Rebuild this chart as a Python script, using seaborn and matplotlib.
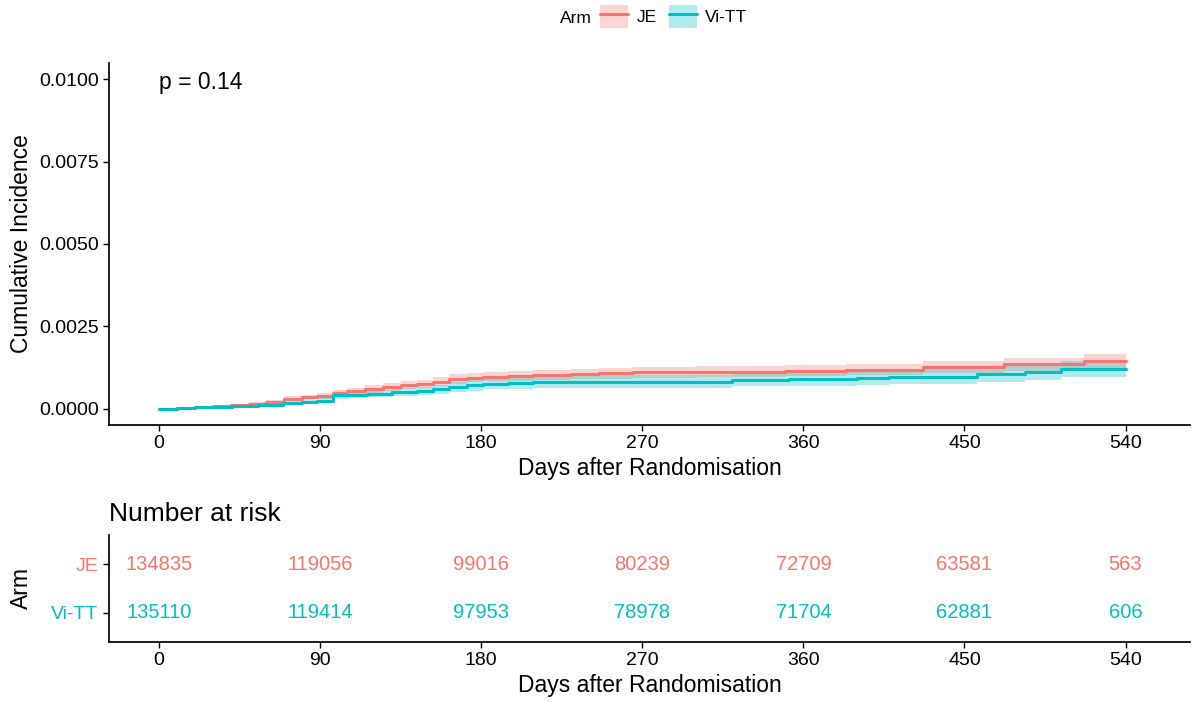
import numpy as np
import pandas as pd
import matplotlib
matplotlib.use("Agg")
import matplotlib.pyplot as plt
import seaborn as sns
from matplotlib.patches import Patch
from matplotlib.lines import Line2D

# cumulative incidence (step curves)
je_days = [0, 10, 20, 30, 40, 50, 60, 70, 80, 88, 97, 105, 115, 125, 135, 144, 153, 162, 172, 181, 195, 209,
           230, 246, 265, 300, 350, 384, 427, 472, 517, 540]
je_ci = [0, 0.00002, 0.00004, 0.00007, 0.0001, 0.00014, 0.0002, 0.0003, 0.00034, 0.00037, 0.00047, 0.00052,
         0.00058, 0.00065, 0.0007, 0.00075, 0.00082, 0.0009, 0.00094, 0.00097, 0.001, 0.00103,
         0.00105, 0.00107, 0.0011, 0.00112, 0.00115, 0.00118, 0.00126, 0.00134, 0.00143, 0.00143]
je_lo = [0, 0.00001, 0.00002, 0.00004, 0.00006, 0.00009, 0.00014, 0.00022, 0.00026, 0.00028, 0.00037, 0.00041,
         0.00047, 0.00053, 0.00058, 0.00062, 0.00069, 0.00076, 0.0008, 0.00083, 0.00085, 0.00088,
         0.0009, 0.00091, 0.00094, 0.00096, 0.00098, 0.00101, 0.00107, 0.00114, 0.00121, 0.00121]
je_hi = [0, 0.00003, 0.00006, 0.0001, 0.00014, 0.00019, 0.00026, 0.00038, 0.00042, 0.00046, 0.00057, 0.00063,
         0.0007, 0.00077, 0.00083, 0.00088, 0.00096, 0.00104, 0.00108, 0.00111, 0.00115, 0.00118,
         0.0012, 0.00123, 0.00126, 0.00128, 0.00132, 0.00136, 0.00145, 0.00154, 0.00165, 0.00165]

vi_days = [0, 10, 20, 30, 41, 55, 69, 80, 88, 97, 106, 116, 130, 144, 153, 162, 172, 181, 195, 209, 230, 246,
           278, 320, 352, 390, 408, 457, 484, 504, 540]
vi_ci = [0, 0.00002, 0.00004, 0.00006, 0.00009, 0.00012, 0.00016, 0.0002, 0.00024, 0.0004, 0.00042, 0.00045,
         0.00049, 0.00053, 0.00059, 0.00065, 0.0007, 0.00075, 0.00078, 0.0008, 0.00081, 0.00082,
         0.00082, 0.00087, 0.0009, 0.00093, 0.00097, 0.00105, 0.00112, 0.0012, 0.0012]
vi_lo = [0, 0.00001, 0.00002, 0.00003, 0.00005, 0.00007, 0.0001, 0.00013, 0.00016, 0.0003, 0.00032, 0.00034,
         0.00037, 0.0004, 0.00045, 0.0005, 0.00054, 0.00058, 0.0006, 0.00062, 0.00062, 0.00063,
         0.00063, 0.00067, 0.00069, 0.00071, 0.00074, 0.00081, 0.00087, 0.00095, 0.00095]
vi_hi = [0, 0.00003, 0.00006, 0.00009, 0.00013, 0.00017, 0.00022, 0.00027, 0.00032, 0.0005, 0.00052, 0.00056,
         0.00061, 0.00066, 0.00073, 0.0008, 0.00086, 0.00092, 0.00096, 0.00098, 0.001, 0.00101,
         0.00101, 0.00107, 0.00111, 0.00115, 0.0012, 0.00129, 0.00137, 0.00145, 0.00145]

# number at risk table
risk_days = [0, 90, 180, 270, 360, 450, 540]
je_risk = [134835, 119056, 99016, 80239, 72709, 63581, 563]
vi_risk = [135110, 119414, 97953, 78978, 71704, 62881, 606]

arms = ["JE", "Vi-TT"]
colors = {"JE": "#F8766D", "Vi-TT": "#00BFC4"}

sns.set_theme(style="ticks")
plt.rcParams["font.family"] = ["Liberation Sans", "DejaVu Sans"]
plt.rcParams["axes.edgecolor"] = "black"
plt.rcParams["axes.labelcolor"] = "black"
plt.rcParams["text.color"] = "black"
plt.rcParams["xtick.color"] = "black"
plt.rcParams["ytick.color"] = "black"

df = pd.concat([
    pd.DataFrame({"day": je_days, "ci": je_ci, "Arm": "JE"}),
    pd.DataFrame({"day": vi_days, "ci": vi_ci, "Arm": "Vi-TT"}),
])

fig = plt.figure(figsize=(11.92, 7.02), dpi=100)
ax = fig.add_axes([0.0914, 0.3946, 0.9069, 0.5157])
ax2 = fig.add_axes([0.0914, 0.0855, 0.9069, 0.1524])

ax.fill_between(je_days, je_lo, je_hi, step="post", color=colors["JE"], alpha=0.3, lw=0)
ax.fill_between(vi_days, vi_lo, vi_hi, step="post", color=colors["Vi-TT"], alpha=0.3, lw=0)
sns.lineplot(data=df, x="day", y="ci", hue="Arm", palette=colors, estimator=None,
             drawstyle="steps-post", linewidth=2.2, legend=False, ax=ax)

xlim = (-28, 576)
ax.set_xlim(xlim)
ax.set_ylim(-0.0005, 0.0105)
ax.set_xticks(risk_days)
ax.set_yticks([0, 0.0025, 0.005, 0.0075, 0.01])
ax.set_yticklabels(["0.0000", "0.0025", "0.0050", "0.0075", "0.0100"])
ax.set_xlabel("Days after Randomisation", fontsize=16.5, labelpad=3)
ax.set_ylabel("Cumulative Incidence", fontsize=16.5)
ax.yaxis.set_label_coords(-0.07, 0.5)
ax.tick_params(labelsize=14, length=4, width=1)
ax.text(0, 0.0099, "p = 0.14", fontsize=16.5, ha="left", va="center")
sns.despine(ax=ax)

# risk table
for arm, vals, ypos in [("JE", je_risk, 1), ("Vi-TT", vi_risk, 0)]:
    for d, v in zip(risk_days, vals):
        ax2.text(d, ypos, str(v), color=colors[arm], fontsize=14.5, ha="center", va="center")
ax2.set_xlim(xlim)
ax2.set_ylim(-0.6, 1.6)
ax2.set_xticks(risk_days)
ax2.set_yticks([1, 0])
ax2.set_yticklabels(arms)
for lab, arm in zip(ax2.get_yticklabels(), arms):
    lab.set_color(colors[arm])
ax2.tick_params(labelsize=14, length=4, width=1)
ax2.set_xlabel("Days after Randomisation", fontsize=16.5, labelpad=3)
ax2.set_ylabel("Arm", fontsize=16.5)
ax2.yaxis.set_label_coords(-0.07, 0.5)
ax2.set_title("Number at risk", loc="left", fontsize=19, pad=10)
sns.despine(ax=ax2)

# legend on top
handles = [(Patch(facecolor=colors[a], alpha=0.3, edgecolor="none"),
            Line2D([], [], color=colors[a], lw=2.2)) for a in arms]
fig.legend(handles, arms, loc="upper left", bbox_to_anchor=(0.5034, 0.993), ncol=2,
           frameon=False, fontsize=12.5, handlelength=1.6, handleheight=1.7,
           handletextpad=0.5, columnspacing=0.7, borderpad=0, borderaxespad=0)
fig.text(0.4698, 0.974, "Arm", fontsize=12.5, ha="left", va="center")

fig.savefig("out.png", dpi=100)
